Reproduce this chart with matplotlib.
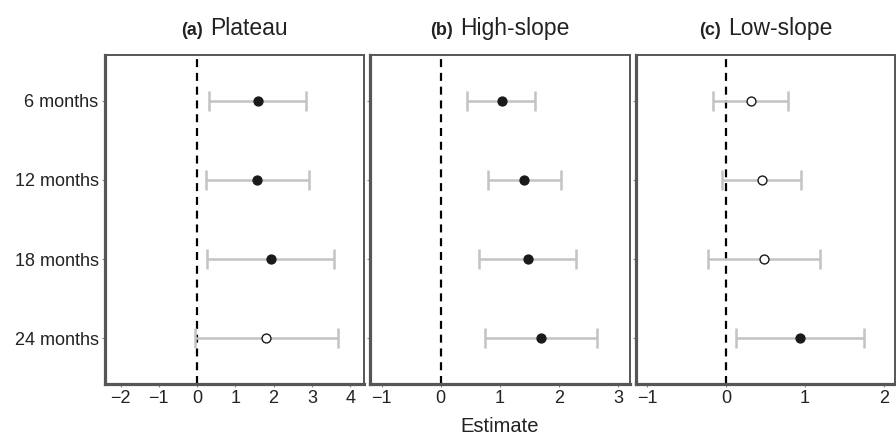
import matplotlib
matplotlib.use("Agg")
import matplotlib.pyplot as plt
from matplotlib.offsetbox import TextArea, HPacker, AnchoredOffsetbox
import numpy as np

plt.rcParams['font.family'] = ['Liberation Sans', 'DejaVu Sans']

# data
months = ["6 months", "12 months", "18 months", "24 months"]
panel_tags = ["(a)", "(b)", "(c)"]
panel_names = ["Plateau", "High-slope", "Low-slope"]

plateau_est = [1.58, 1.57, 1.92, 1.80]
plateau_lo = [0.32, 0.23, 0.27, -0.06]
plateau_hi = [2.84, 2.93, 3.58, 3.69]

high_est = [1.03, 1.40, 1.48, 1.69]
high_lo = [0.45, 0.79, 0.64, 0.75]
high_hi = [1.59, 2.03, 2.28, 2.64]

low_est = [0.31, 0.45, 0.48, 0.93]
low_lo = [-0.16, -0.05, -0.23, 0.12]
low_hi = [0.78, 0.95, 1.19, 1.75]

x_ticks = [[-2, -1, 0, 1, 2, 3, 4], [-1, 0, 1, 2, 3], [-1, 0, 1, 2]]
x_lims = [(-2.41, 4.36), (-1.19, 3.19), (-1.14, 2.14)]

estimates = [plateau_est, high_est, low_est]
lowers = [plateau_lo, high_lo, low_lo]
uppers = [plateau_hi, high_hi, low_hi]

SPINE = "#565656"
BAR = "#c3c3c3"


def draw_panel(ax, est, lo, hi, tag, name, xt, xl, show_labels):
    est = np.asarray(est)
    lo = np.asarray(lo)
    hi = np.asarray(hi)
    y = np.arange(len(months))

    ax.axvline(0, color="black", lw=1.6, dashes=(3.6, 2.6), zorder=1)
    ax.errorbar(est, y, xerr=[est - lo, hi - est], fmt="none", ecolor=BAR,
                elinewidth=1.8, capsize=7.5, capthick=1.8, zorder=2)
    # filled marker when the interval excludes zero
    sig = lo > 0
    ax.plot(est[sig], y[sig], "o", ms=6.4, mfc="#1a1a1a", mec="#1a1a1a", zorder=3)
    ax.plot(est[~sig], y[~sig], "o", ms=6.4, mfc="white", mec="#1a1a1a",
            mew=1.0, zorder=3)

    ax.set_xlim(*xl)
    ax.set_xticks(xt)
    ax.set_ylim(len(months) - 0.42, -0.58)
    ax.set_yticks(y)
    if show_labels:
        ax.set_yticklabels(months)
    else:
        ax.set_yticklabels([])

    ax.tick_params(direction="out", length=2.5, width=0.8, color="#888888",
                   labelsize=13, labelcolor="#222222", pad=2)
    for side in ["left", "bottom"]:
        ax.spines[side].set_linewidth(2.3)
        ax.spines[side].set_color(SPINE)
    for side in ["top", "right"]:
        ax.spines[side].set_linewidth(1.4)
        ax.spines[side].set_color(SPINE)

    t1 = TextArea(tag, textprops=dict(fontsize=13, fontweight="bold", color="#222222"))
    t2 = TextArea(name, textprops=dict(fontsize=16.5, color="#222222"))
    box = HPacker(children=[t1, t2], align="baseline", pad=0, sep=5)
    anchored = AnchoredOffsetbox(loc="lower center", child=box, pad=0, borderpad=0,
                                 frameon=False, bbox_to_anchor=(0.5, 1.045),
                                 bbox_transform=ax.transAxes)
    ax.add_artist(anchored)


fig, axes = plt.subplots(1, 3, figsize=(8.96, 4.47), dpi=100)
fig.subplots_adjust(left=0.117, right=0.999, top=0.877, bottom=0.141, wspace=0.025)

for i, ax in enumerate(axes):
    draw_panel(ax, estimates[i], lowers[i], uppers[i], panel_tags[i], panel_names[i],
               x_ticks[i], x_lims[i], i == 0)

fig.text(0.558, 0.025, "Estimate", ha="center", va="bottom", fontsize=14.5, color="#222222")

fig.savefig("out.png", dpi=100)
